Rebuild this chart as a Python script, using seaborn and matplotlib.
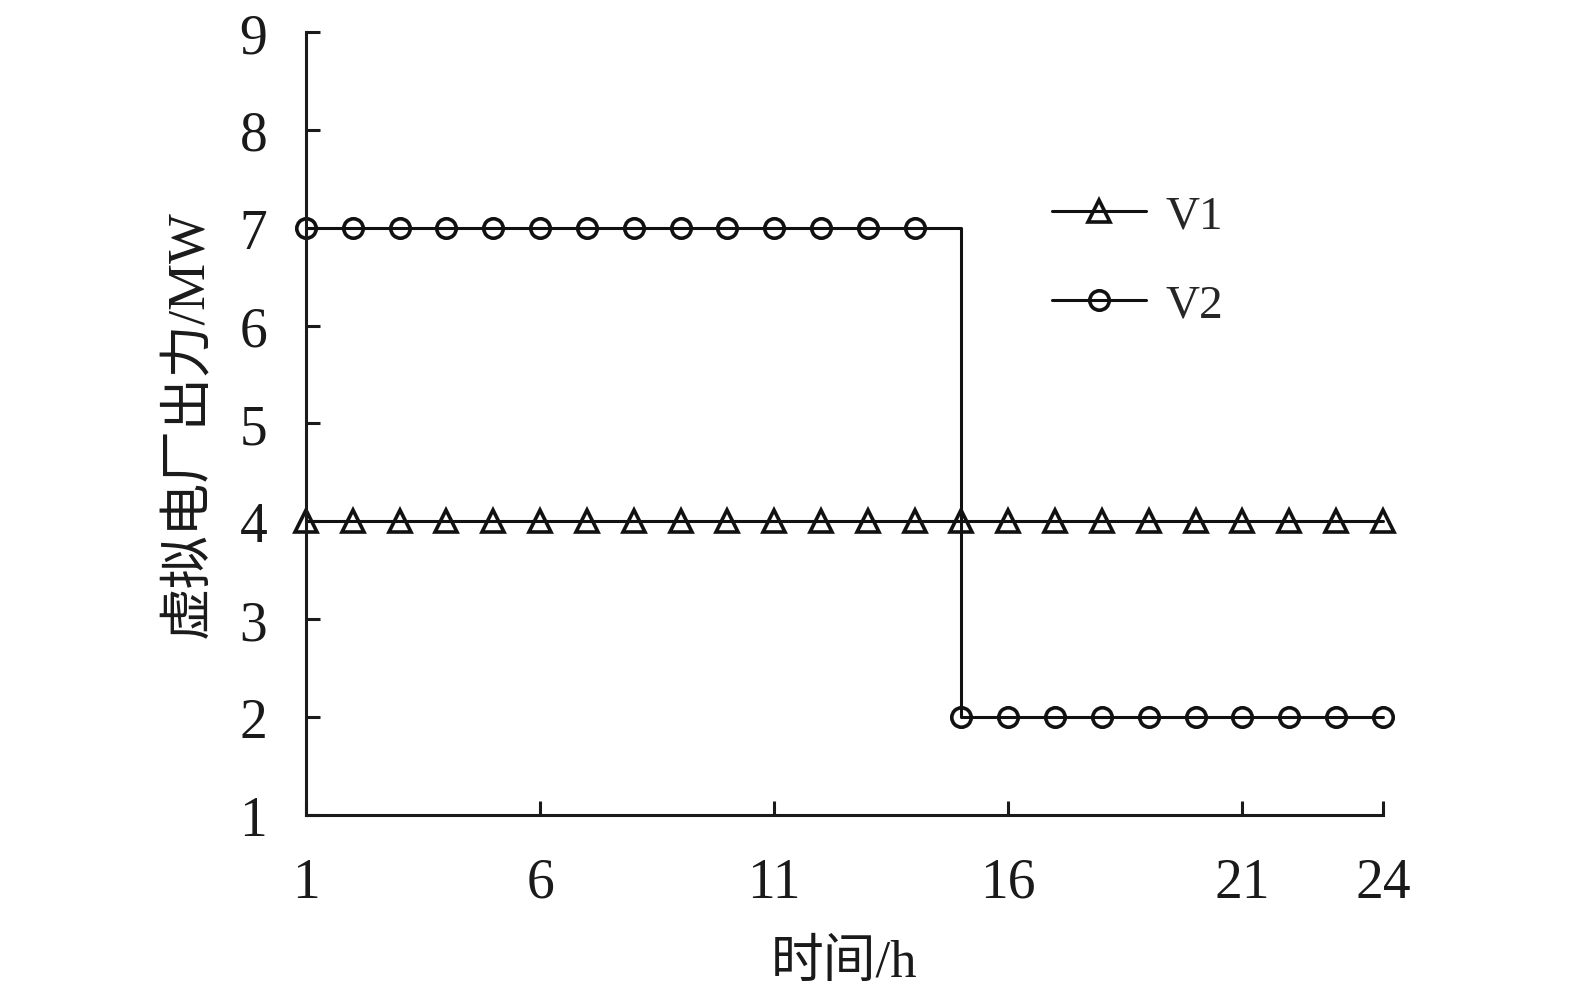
import numpy as np
import pandas as pd
import matplotlib
matplotlib.use('Agg')
import matplotlib.pyplot as plt
import seaborn as sns

hours = list(range(1, 25))
v1 = [4] * 24
v2 = [7] * 14 + [2] * 10
xticks = [1, 6, 11, 16, 21, 24]
yticks = list(range(1, 10))

df = pd.DataFrame({'hour': hours, 'V1': v1, 'V2': v2})

sns.set_style('ticks')
plt.rcParams['font.family'] = ['Liberation Serif', 'Noto Sans CJK SC']
plt.rcParams['xtick.direction'] = 'in'
plt.rcParams['ytick.direction'] = 'in'

fig = plt.figure(figsize=(15.75, 10.04), dpi=100)
ax = fig.add_axes([0.1943, 0.1873, 0.878 - 0.1943, 0.9671 - 0.1873])

sns.lineplot(data=df, x='hour', y='V1', ax=ax, color='#111111', lw=2.2,
             marker='^', markersize=16, mfc='none', mec='#111111', mew=2.6, label='V1')
sns.lineplot(data=df, x='hour', y='V2', ax=ax, color='#111111', lw=2.2, drawstyle='steps-post',
             marker='o', markersize=14, mfc='none', mec='#111111', mew=2.6, label='V2')

ax.set_xlim(1, 24)
ax.set_ylim(1, 9)
ax.set_xticks(xticks)
ax.set_yticks(yticks)
ax.tick_params(labelsize=40, width=2.2, length=10, colors='#1a1a1a')
ax.tick_params(axis='x', pad=30)
ax.tick_params(axis='y', pad=28)
for s in ['top', 'right']:
    ax.spines[s].set_visible(False)
for s in ['left', 'bottom']:
    ax.spines[s].set_linewidth(2.2)
    ax.spines[s].set_color('#1a1a1a')
for ln in ax.lines:
    ln.set_clip_on(False)

ax.set_xlabel('时间/h', fontsize=38, labelpad=22, color='#1a1a1a')
ax.set_ylabel('虚拟电厂出力/MW', fontsize=38, labelpad=18, color='#1a1a1a')

ax.legend(loc='upper left', bbox_to_anchor=(0.653, 0.847), frameon=False, fontsize=34,
          handlelength=2.0, labelspacing=0.98, handletextpad=0.42)

fig.savefig('out.png', dpi=100)
